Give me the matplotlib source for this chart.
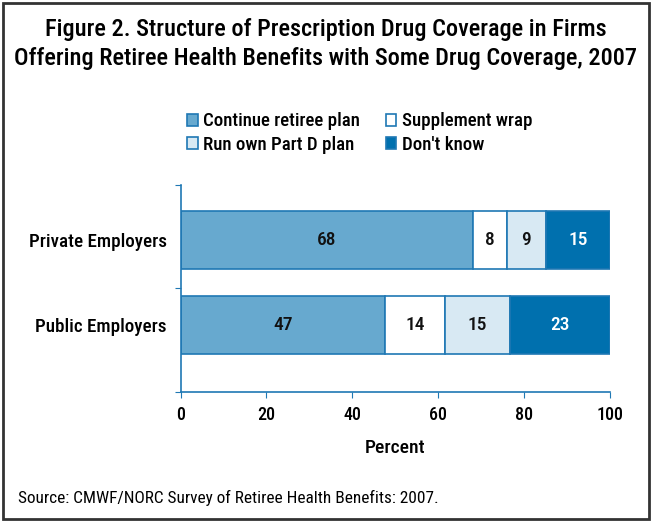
import matplotlib.pyplot as plt
from matplotlib.patches import Rectangle
import numpy as np

###############################################################################
# Data
###############################################################################
groups = ['Private Employers', 'Public Employers']
series = ['Continue retiree plan', 'Supplement wrap', 'Run own Part D plan', "Don't know"]
continue_plan = [68.0, 47.7]
supplement = [7.9, 13.9]
own_part_d = [9.1, 15.1]
dont_know = [15.0, 23.3]
labels = [['68', '47'], ['8', '14'], ['9', '15'], ['15', '23']]
xticks = [0, 20, 40, 60, 80, 100]

colors = ['#67a9cf', '#ffffff', '#d8e9f3', '#0070ae']
text_colors = ['#111111', '#111111', '#111111', '#ffffff']
edge = '#1f78b4'

###############################################################################
# Plot
###############################################################################
plt.rcParams['font.family'] = ['Roboto Condensed', 'DejaVu Sans']

fig = plt.figure(figsize=(6.52, 5.22), dpi=100)
ax = fig.add_axes([0.277, 0.2496, 0.6586, 0.396])

ypos = [0.528, 1.355]
bar_h = 0.56
vals = [continue_plan, supplement, own_part_d, dont_know]
left = np.zeros(2)
for i, v in enumerate(vals):
    bars = ax.barh(ypos, v, left=left, height=bar_h, color=colors[i],
                   edgecolor=edge, linewidth=1.2, label=series[i])
    for j, b in enumerate(bars):
        ax.text(left[j] + v[j] / 2, ypos[j], labels[i][j], ha='center', va='center',
                fontsize=14, fontweight='medium', color=text_colors[i])
    left += np.array(v)

ax.set_xlim(0, 100)
ax.set_ylim(2, 0)
ax.set_yticks([0, 1, 2])
ax.set_yticklabels([])
ax.set_yticks(ypos, minor=True)
ax.set_yticklabels(groups, minor=True, fontsize=13.7, fontweight='medium')
ax.tick_params(axis='y', which='minor', length=0, pad=10)
ax.tick_params(axis='y', which='major', length=4, color=edge)
ax.set_xticks(xticks)
ax.set_xticklabels([str(t) for t in xticks], fontsize=13, fontweight='medium')
ax.tick_params(axis='x', length=4, color=edge, pad=6)
for s in ['top', 'right']:
    ax.spines[s].set_visible(False)
for s in ['left', 'bottom']:
    ax.spines[s].set_color(edge)
    ax.spines[s].set_linewidth(1.2)
ax.set_xlabel('Percent', fontsize=14, fontweight='medium', labelpad=11)

# legend
handles, lab = ax.get_legend_handles_labels()
order = [0, 2, 1, 3]
fig.legend([handles[k] for k in order], [lab[k] for k in order], ncol=2,
           loc='center', bbox_to_anchor=(0.552, 0.745), frameon=False,
           prop={'size': 13.6, 'weight': 'medium'}, handlelength=0.56, handleheight=0.56,
           handletextpad=0.3, columnspacing=1.35, labelspacing=0.28)

fig.text(0.5, 0.915, 'Figure 2. Structure of Prescription Drug Coverage in Firms\n'
         'Offering Retiree Health Benefits with Some Drug Coverage, 2007',
         ha='center', va='center', fontsize=17.5, fontweight='medium', linespacing=1.32)
fig.text(0.028, 0.046, 'Source: CMWF/NORC Survey of Retiree Health Benefits: 2007.',
         ha='left', va='center', fontsize=12.4, fontweight='normal')

fig.patches.append(Rectangle((0.005, 0.005), 0.99, 0.99, transform=fig.transFigure,
                             fill=False, edgecolor='#333333', linewidth=2))

plt.savefig('out.png', dpi=100)
